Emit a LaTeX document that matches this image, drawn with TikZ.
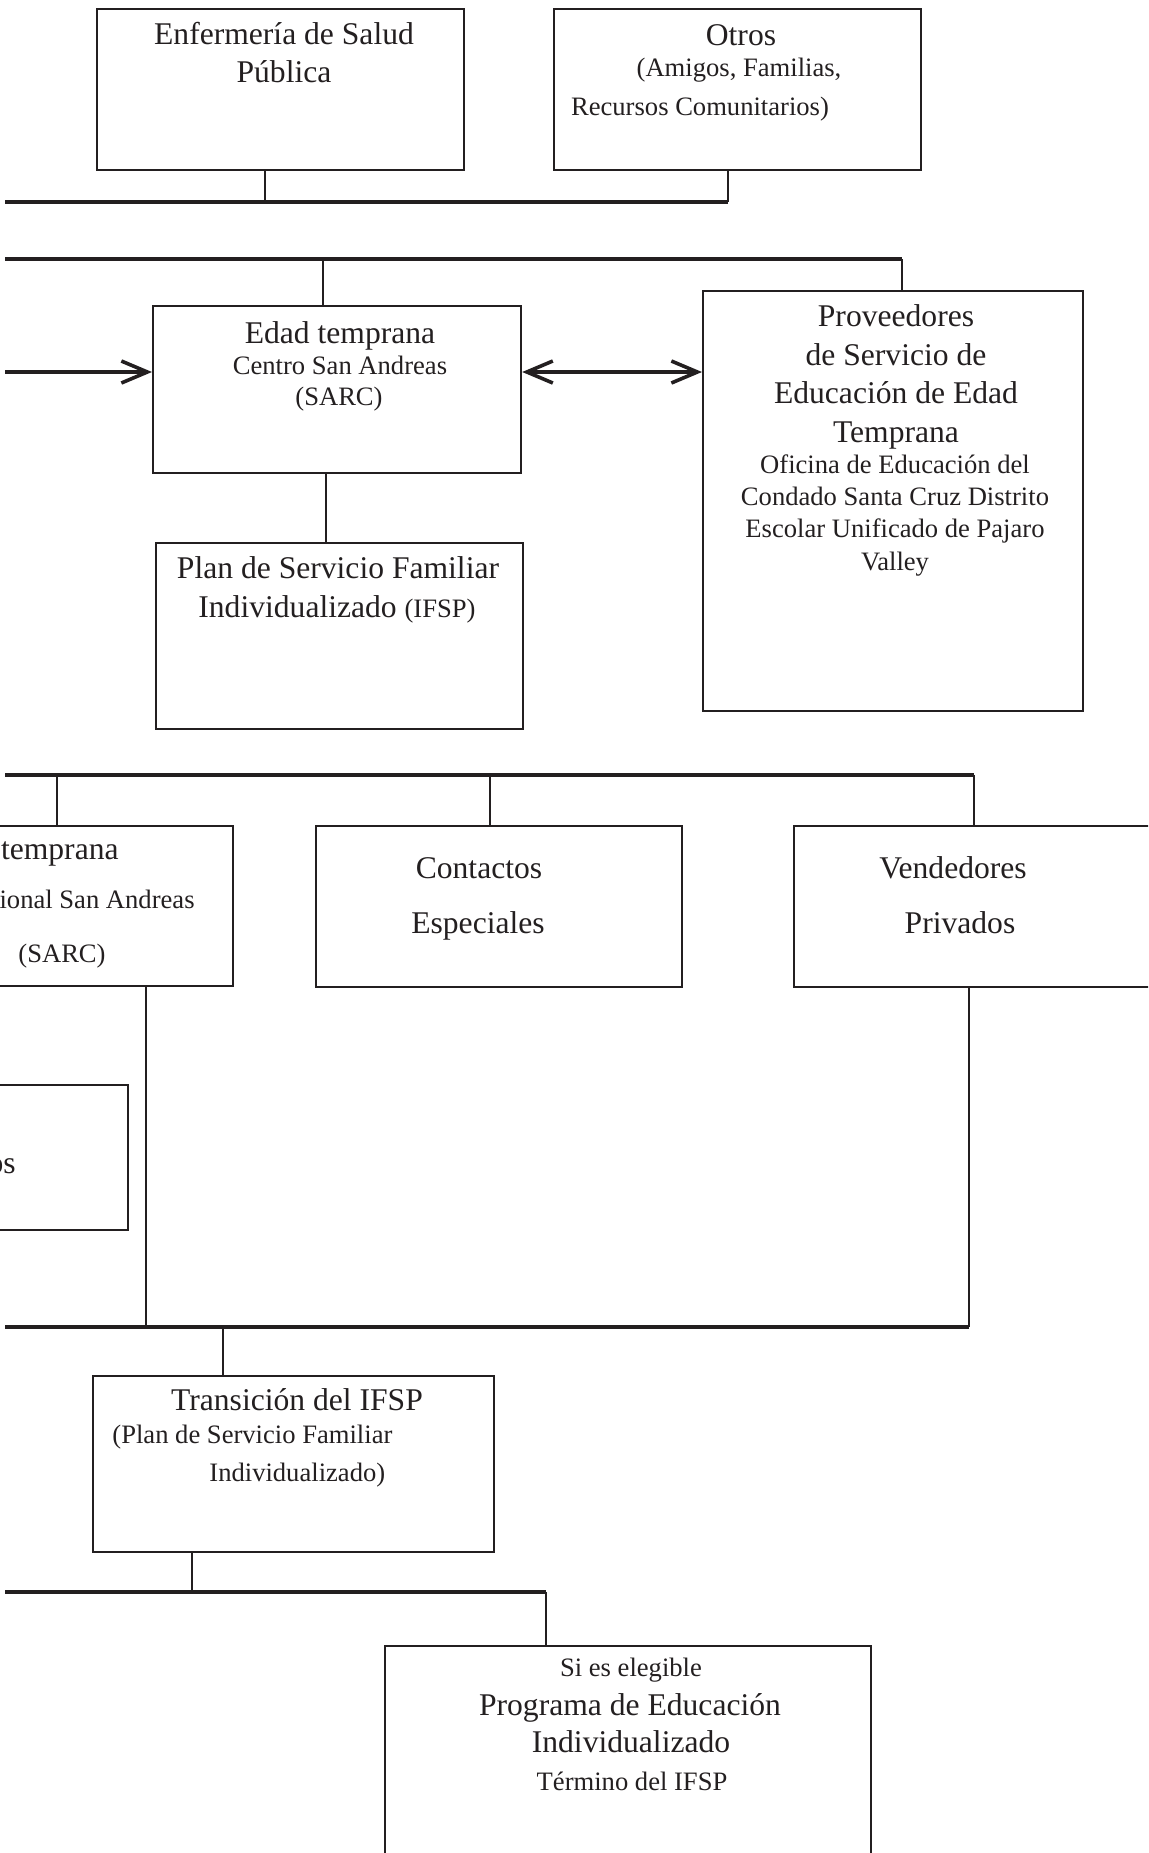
\documentclass[tikz,border=0pt]{standalone}
\usepackage{fontspec}
\setmainfont{Liberation Serif}
\usepackage{xcolor}
\usetikzlibrary{arrows.meta,positioning,calc}
\definecolor{inkblack}{HTML}{231F20}
\newcommand{\bigtxt}{\fontsize{15.8pt}{19pt}\selectfont}
\newcommand{\smalltxt}{\fontsize{13.3pt}{16pt}\selectfont}
\tikzset{
  box/.style={draw=inkblack, line width=1.1pt, anchor=north west, inner sep=0pt},
  bus/.style={draw=inkblack, line width=1.7pt},
  stem/.style={draw=inkblack, line width=1.2pt},
  bigtext/.style={font=\bigtxt, text=inkblack, inner sep=0pt, text height=10.4pt, text depth=0pt},
  smalltext/.style={font=\smalltxt, text=inkblack, inner sep=0pt, text height=8.8pt, text depth=0pt},
  arrowline/.style={draw=inkblack, line width=1.8pt, -{Straight Barb[length=13pt,width=11pt]}},
  dblarrow/.style={draw=inkblack, line width=1.8pt, {Straight Barb[length=13pt,width=11pt]}-{Straight Barb[length=13pt,width=11pt]}}
}

\begin{document}
\begin{tikzpicture}[x=0.5pt, y=-0.5pt]
    \useasboundingbox (0,0) rectangle (1148,1853);
    \clip (0,0) rectangle (1148,1853);

    % top row
    \node[box, minimum width=183.5pt, minimum height=80.5pt] (enf) at (96,8) {};
    \node[box, minimum width=183.5pt, minimum height=80.5pt] (otros) at (553,8) {};
    \node[bigtext] (enfA) at (284,34) {Enfermería de Salud};
    \node[bigtext] (enfB) at (284,72) {Pública};
    \node[bigtext] (otrosA) at (741,35) {Otros};
    \node[smalltext] (otrosB) at (739,68) {(Amigos, Familias,};
    \node[smalltext] (otrosC) at (700,107) {Recursos Comunitarios)};

    \coordinate (busA) at (5,202);
    \coordinate (busAr) at (728,202);
    \coordinate (enfJ) at (265,202);
    \draw[bus] (busA) -- (busAr);
    \draw[stem] (enf.south -| enfJ) -- (enfJ);
    \draw[stem] (otros.south -| busAr) -- (busAr);

    % early start
    \node[box, minimum width=184pt, minimum height=83.5pt] (edad) at (152,305) {};
    \node[box, minimum width=190pt, minimum height=210pt] (prov) at (702,290) {};
    \node[box, minimum width=183.5pt, minimum height=93pt] (plan) at (155,542) {};
    \node[bigtext] (edadA) at (340,333) {Edad temprana};
    \node[smalltext] (edadB) at (340,366) {Centro San Andreas};
    \node[smalltext] (edadC) at (339,397) {(SARC)};
    \node[bigtext] (provA) at (896,316) {Proveedores};
    \node[bigtext] (provB) at (896,355) {de Servicio de};
    \node[bigtext] (provC) at (896,393) {Educación de Edad};
    \node[bigtext] (provD) at (896,432) {Temprana};
    \node[smalltext] (provE) at (895,465) {Oficina de Educación del};
    \node[smalltext] (provF) at (895,497) {Condado Santa Cruz Distrito};
    \node[smalltext] (provG) at (895,529) {Escolar Unificado de Pajaro};
    \node[smalltext] (provH) at (895,562) {Valley};
    \node[bigtext] (planA) at (338,568) {Plan de Servicio Familiar};
    \node[bigtext] (planB) at (337,607) {Individualizado {\smalltxt(IFSP)}};

    \coordinate (busB) at (5,259);
    \coordinate (busBr) at (902,259);
    \coordinate (edadJ) at (323,259);
    \coordinate (planX) at (326,500);
    \coordinate (arrL) at (5,372);
    \draw[bus] (busB) -- (busBr);
    \draw[stem] (busBr) -- (prov.north -| busBr);
    \draw[stem] (edadJ) -- (edad.north -| edadJ);
    \draw[arrowline] (arrL) -- (edad.west |- arrL);
    \draw[dblarrow] (edad.east |- arrL) -- (prov.west |- arrL);
    \draw[stem] (edad.south -| planX) -- (plan.north -| planX);

    % services row
    \node[box, minimum width=186pt, minimum height=80pt] (sarc) at (-140,825) {};
    \node[box, minimum width=183pt, minimum height=80.5pt] (contact) at (315,825) {};
    \node[box, minimum width=183.5pt, minimum height=80.5pt] (vend) at (793,825) {};
    \node[box, minimum width=183.5pt, minimum height=72.5pt] (other) at (-240,1084) {};
    \node[bigtext, anchor=east] (sarcA) at (119,849) {temprana};
    \node[smalltext, anchor=east] (sarcB) at (195,900) {ional San Andreas};
    \node[smalltext] (sarcC) at (62,954) {(SARC)};
    \node[bigtext] (contactA) at (479,868) {Contactos};
    \node[bigtext] (contactB) at (478,923) {Especiales};
    \node[bigtext] (vendA) at (953,868) {Vendedores};
    \node[bigtext] (vendB) at (960,923) {Privados};
    \node[bigtext, anchor=east] (otherA) at (16,1163) {os};

    \coordinate (busC) at (5,775);
    \coordinate (busCr) at (974,775);
    \coordinate (sarcJ) at (57,775);
    \coordinate (contactJ) at (490,775);
    \draw[bus] (busC) -- (busCr);
    \draw[stem] (sarcJ) -- (sarc.north -| sarcJ);
    \draw[stem] (contactJ) -- (contact.north -| contactJ);
    \draw[stem] (busCr) -- (vend.north -| busCr);

    \coordinate (busD) at (5,1327);
    \coordinate (busDr) at (969,1327);
    \coordinate (sarcX) at (146,1327);
    \coordinate (transJ) at (223,1327);
    \draw[stem] (sarc.south -| sarcX) -- (sarcX);
    \draw[stem] (vend.south -| busDr) -- (busDr);
    \draw[bus] (busD) -- (busDr);

    % transition
    \node[box, minimum width=200.5pt, minimum height=88pt] (trans) at (92,1375) {};
    \node[box, minimum width=243pt, minimum height=130pt] (iep) at (384,1645) {};
    \node[bigtext] (transA) at (297,1400) {Transición del IFSP};
    \node[smalltext, anchor=west] (transB) at (112,1435) {(Plan de Servicio Familiar};
    \node[smalltext, anchor=west] (transC) at (209,1473) {Individualizado)};
    \node[smalltext] (iepA) at (631,1668) {Si es elegible};
    \node[bigtext] (iepB) at (630,1705) {Programa de Educación};
    \node[bigtext] (iepC) at (631,1742) {Individualizado};
    \node[smalltext] (iepD) at (632,1782) {Término del IFSP};

    \coordinate (busE) at (5,1592);
    \coordinate (busEr) at (546,1592);
    \coordinate (transX) at (192,1592);
    \draw[stem] (transJ) -- (trans.north -| transJ);
    \draw[stem] (trans.south -| transX) -- (transX);
    \draw[bus] (busE) -- (busEr);
    \draw[stem] (busEr) -- (iep.north -| busEr);
\end{tikzpicture}
\end{document}
